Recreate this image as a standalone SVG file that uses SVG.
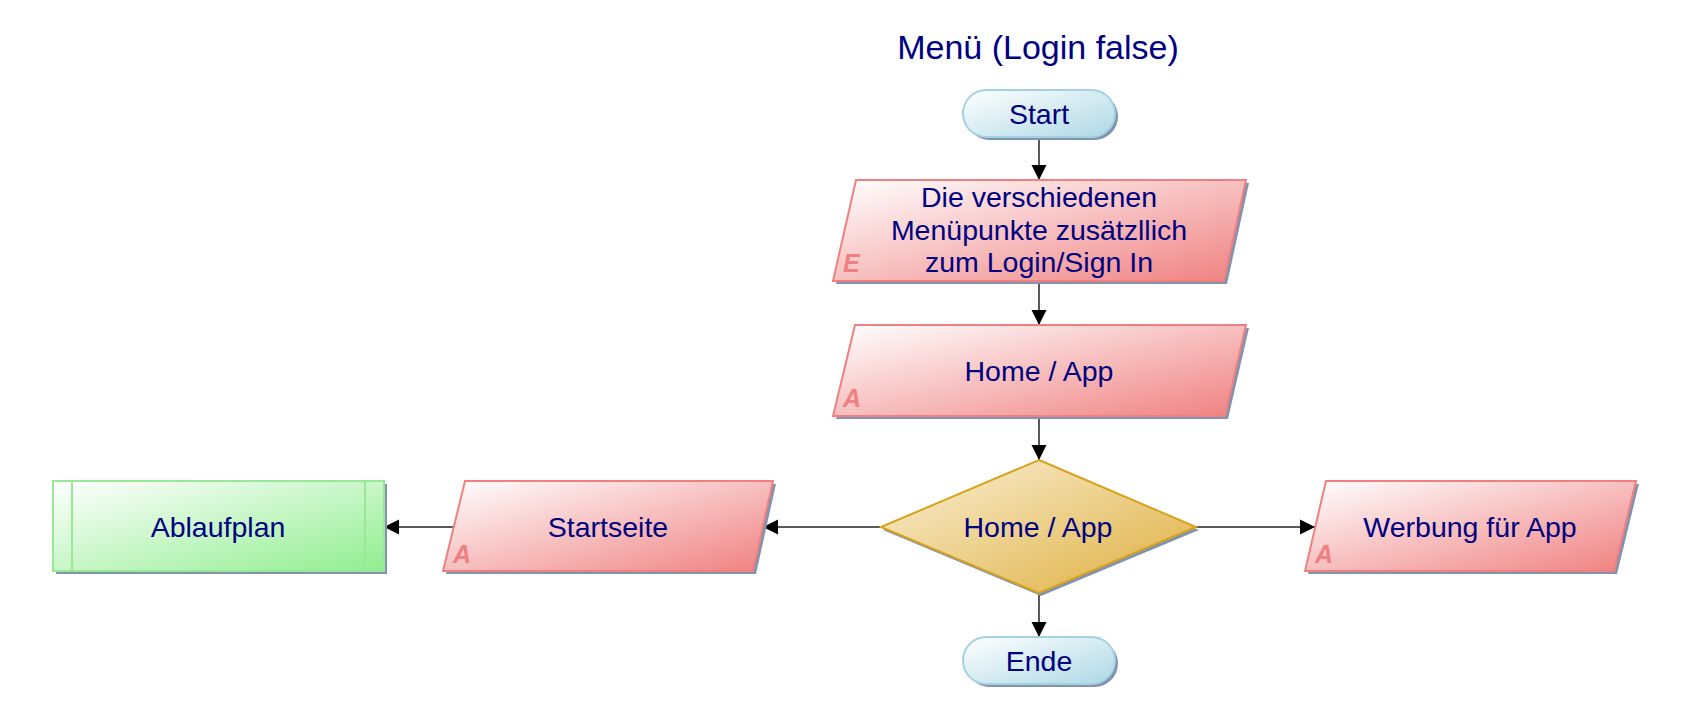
<svg xmlns="http://www.w3.org/2000/svg" width="1687" height="727" viewBox="0 0 1687 727">
  <defs>
    <linearGradient id="gTerm" x1="0" y1="0" x2="1" y2="1">
      <stop offset="0" stop-color="#FFFFFF"/>
      <stop offset="1" stop-color="#ADD8E6"/>
    </linearGradient>
    <linearGradient id="gIO" x1="0" y1="0" x2="1" y2="1">
      <stop offset="0" stop-color="#FFFFFF"/>
      <stop offset="1" stop-color="#F08080"/>
    </linearGradient>
    <linearGradient id="gDec" x1="0" y1="0" x2="1" y2="1">
      <stop offset="0" stop-color="#FBF1D8"/>
      <stop offset="1" stop-color="#DDAE3C"/>
    </linearGradient>
    <linearGradient id="gSub" x1="0" y1="0" x2="1" y2="1">
      <stop offset="0" stop-color="#FFFFFF"/>
      <stop offset="1" stop-color="#90EE90"/>
    </linearGradient>
    <marker id="arr" markerUnits="userSpaceOnUse" markerWidth="16" markerHeight="16" refX="15" refY="8" orient="auto">
      <path d="M0,0.5 L15,8 L0,15.5 z" fill="#000"/>
    </marker>
  </defs>
  <style>
    text { font-family: "Liberation Sans", Arial, sans-serif; fill: #000080; }
    .lbl { font-size: 28.5px; text-anchor: middle; }
    .title { font-size: 34px; text-anchor: middle; }
    .tag { font-size: 25px; font-weight: bold; font-style: italic; fill: #F08080; }
    .shadow { fill: #8193AD; }
    .term { fill: url(#gTerm); stroke: #A3D2E2; stroke-width: 2; }
    .io { fill: url(#gIO); stroke: #F08080; stroke-width: 2; }
    .dec { fill: url(#gDec); stroke: #D9A21B; stroke-width: 2; }
    .sub { fill: url(#gSub); stroke: #98E898; stroke-width: 2; }
    .sub-line { stroke: #98E898; stroke-width: 2; fill: none; }
    .conn { stroke: #222; stroke-width: 1.5; fill: none; marker-end: url(#arr); }
  </style>
  <rect width="1687" height="727" fill="#FFFFFF"/>
  <text class="title" x="1038" y="59">Menü (Login false)</text>

  <g id="connectors">
    <line class="conn" x1="1039" y1="137" x2="1039" y2="180"/>
    <line class="conn" x1="1039" y1="281" x2="1039" y2="325"/>
    <line class="conn" x1="1039" y1="416" x2="1039" y2="460"/>
    <line class="conn" x1="1039" y1="593" x2="1039" y2="637"/>
    <line class="conn" x1="880" y1="527" x2="763" y2="527"/>
    <line class="conn" x1="454" y1="527" x2="384" y2="527"/>
    <line class="conn" x1="1196" y1="527" x2="1315" y2="527"/>
  </g>

  <g id="start">
    <rect class="shadow" x="966" y="93" width="152" height="47" rx="23.5"/>
    <rect class="term" x="963" y="90" width="152" height="47" rx="23.5"/>
    <text class="lbl" x="1039" y="124">Start</text>
  </g>

  <g id="menuepunkte">
    <polygon class="shadow" points="859,183 1249,183 1227,284 836,284"/>
    <polygon class="io" points="856,180 1246,180 1224,281 833,281"/>
    <text class="lbl" x="1039" y="207">Die verschiedenen</text>
    <text class="lbl" x="1039" y="240">Menüpunkte zusätzllich</text>
    <text class="lbl" x="1039" y="272">zum Login/Sign In</text>
    <text class="tag" x="843" y="272">E</text>
  </g>

  <g id="home-app">
    <polygon class="shadow" points="858,328 1249,328 1228,419 836,419"/>
    <polygon class="io" points="855,325 1246,325 1225,416 833,416"/>
    <text class="lbl" x="1039" y="381">Home / App</text>
    <text class="tag" x="843" y="407">A</text>
  </g>

  <g id="decision">
    <polygon class="shadow" points="1041,463 1199,530 1041,596 883,530"/>
    <polygon class="dec" points="1039,460 1196,527 1039,593 881,527"/>
    <text class="lbl" x="1038" y="537">Home / App</text>
  </g>

  <g id="startseite">
    <polygon class="shadow" points="468,484 776,484 756,574 446,574"/>
    <polygon class="io" points="465,481 773,481 753,571 443,571"/>
    <text class="lbl" x="608" y="537">Startseite</text>
    <text class="tag" x="453" y="563">A</text>
  </g>

  <g id="ablaufplan">
    <rect class="shadow" x="56" y="484" width="331" height="90"/>
    <rect class="sub" x="53" y="481" width="331" height="90"/>
    <line class="sub-line" x1="72" y1="481" x2="72" y2="571"/>
    <line class="sub-line" x1="365" y1="481" x2="365" y2="571"/>
    <text class="lbl" x="218" y="537">Ablaufplan</text>
  </g>

  <g id="werbung">
    <polygon class="shadow" points="1329,484 1639,484 1617,574 1308,574"/>
    <polygon class="io" points="1326,481 1636,481 1614,571 1305,571"/>
    <text class="lbl" x="1470" y="537">Werbung für App</text>
    <text class="tag" x="1315" y="563">A</text>
  </g>

  <g id="ende">
    <rect class="shadow" x="966" y="640" width="152" height="47" rx="23.5"/>
    <rect class="term" x="963" y="637" width="152" height="47" rx="23.5"/>
    <text class="lbl" x="1039" y="671">Ende</text>
  </g>
</svg>
